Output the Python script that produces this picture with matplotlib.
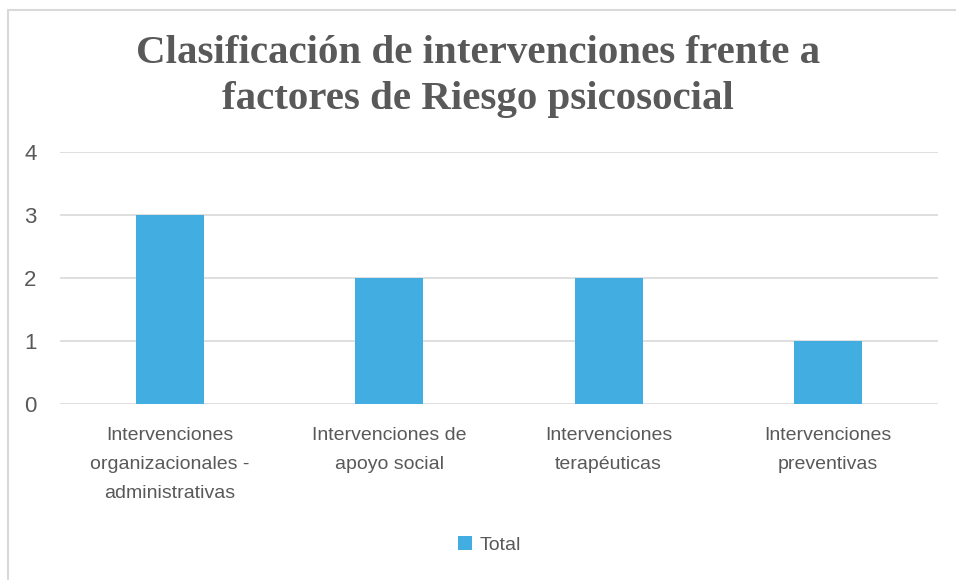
import matplotlib.pyplot as plt
from matplotlib.patches import Rectangle

# data
categories = ["Intervenciones\norganizacionales -\nadministrativas",
              "Intervenciones de\napoyo social",
              "Intervenciones\nterapéuticas",
              "Intervenciones\npreventivas"]
totals = [3, 2, 2, 1]
series_name = "Total"
title = "Clasificación de intervenciones frente a\nfactores de Riesgo psicosocial"

bar_color = "#41ADE1"
text_color = "#595959"
grid_color = "#D9D9D9"
sans = ["Liberation Sans", "DejaVu Sans"]

fig = plt.figure(figsize=(9.56, 5.8), dpi=100)
ax = fig.add_axes([0.0628, 0.3034, 0.9182, 0.4345])

x = list(range(len(categories)))
ax.bar(x, totals, width=0.31, color=bar_color, label=series_name, zorder=3)

ax.set_xlim(-0.5, len(categories) - 0.5)
ax.set_ylim(0, 4)
ax.set_yticks([0, 1, 2, 3, 4])
ax.set_xticks(x)
ax.set_xticklabels([])
# category labels drawn as text so the line spacing sticks
for xi, cat in zip(x, categories):
    ax.text(xi, -0.09, cat, transform=ax.get_xaxis_transform(), ha="center",
            va="top", fontsize=14, color=text_color, family=sans,
            linespacing=1.95)
for lab in ax.get_yticklabels():
    lab.set_fontsize(16)
    lab.set_color(text_color)
    lab.set_family(sans)

ax.tick_params(axis="both", length=0)
ax.tick_params(axis="y", pad=17)
ax.grid(axis="y", color=grid_color, linewidth=1.2, zorder=0)
for s in ax.spines.values():
    s.set_visible(False)

fig.text(0.5, 0.868, title, ha="center", va="center", fontsize=29.5,
         fontweight="bold", family=["Liberation Serif", "DejaVu Serif"],
         color=text_color, linespacing=1.3)

leg = fig.legend(loc="center", bbox_to_anchor=(0.512, 0.06), frameon=False,
                 handlelength=0.7, handleheight=0.7, handletextpad=0.4,
                 prop={"family": sans, "size": 14})
for t in leg.get_texts():
    t.set_color(text_color)

# outer border of the chart area
fig.patches.append(Rectangle((0.008, -0.01), 1.1, 0.993, transform=fig.transFigure,
                             fill=False, edgecolor=grid_color, linewidth=1.5))

fig.savefig("out.png", dpi=100)
